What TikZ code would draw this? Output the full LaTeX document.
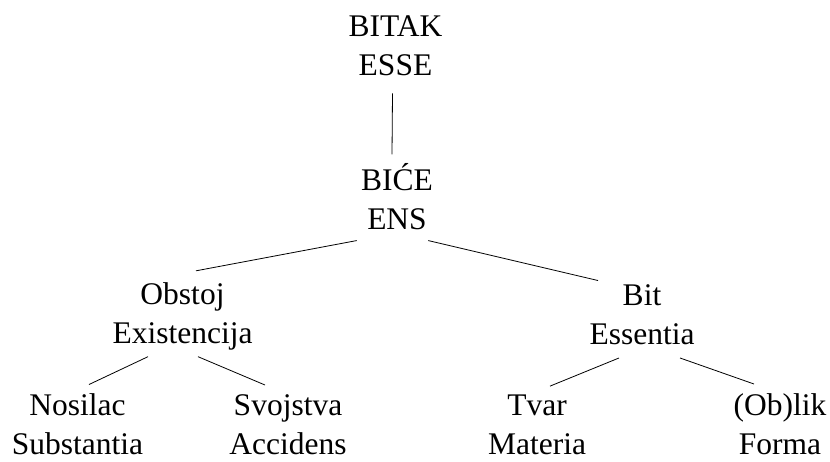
\documentclass[tikz,border=0pt]{standalone}
\usepackage{fontspec}
\setmainfont{Liberation Serif}
\begin{document}
\begin{tikzpicture}[x=1pt,y=1pt,line width=0.8pt,
  pojam/.style={align=center,inner sep=0pt,font=\fontsize{31.5}{39}\selectfont}]
\useasboundingbox (0,0) rectangle (830,-462);
%root
\node[pojam] (bitak) at (395.5,-46) {BITAK\\ESSE};
\node[pojam] (bice) at (397,-197) {BIĆE\\ENS};
%middle
\node[pojam] (obstoj) at (182.5,-316.5) {Obstoj\\Existencija};
\node[pojam] (bit) at (642,-314.5) {Bit\\Essentia};
%leaves
\node[pojam] (nosilac) at (77.5,-424) {Nosilac\\Substantia};
\node[pojam] (svojstva) at (288,-424.5) {Svojstva\\Accidens};
\node[pojam] (tvar) at (537,-424.5) {Tvar\\Materia};
\node[pojam] (oblik) at (780,-424) {(Ob)lik\\Forma};
%edges
\draw ([shift={(-3,-17)}]bitak.south) -- ([shift={(-5,9)}]bice.north);
\draw ([shift={(-4,-10)}]bice.south west) -- ([shift={(13.5,11.5)}]obstoj.north);
\draw ([shift={(-5,-10)}]bice.south east) -- ([shift={(-44,3.5)}]bit.north);
\draw ([shift={(-34.5,-6)}]obstoj.south) -- ([shift={(11.5,8.5)}]nosilac.north);
\draw ([shift={(15.5,-6)}]obstoj.south) -- ([shift={(-23,9)}]svojstva.north);
\draw ([shift={(-23,-13)}]bit.south) -- ([shift={(13,8)}]tvar.north);
\draw ([shift={(38,-13)}]bit.south) -- ([shift={(-26,9)}]oblik.north);
\end{tikzpicture}
\end{document}
